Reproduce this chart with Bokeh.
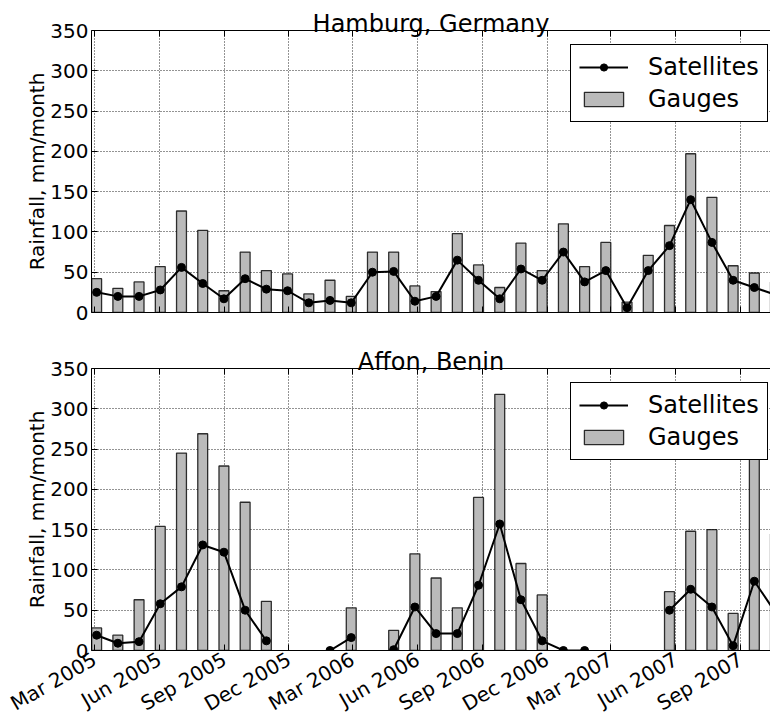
import math
import numpy as np
import pandas as pd
from bokeh.plotting import figure
from bokeh.layouts import column
from bokeh.models import (Range1d, FixedTicker, LinearAxis, Legend,
                          LegendItem, DatetimeTickFormatter)
from bokeh.embed import file_html
from bokeh.resources import INLINE

nan = float("nan")

# ---- data -------------------------------------------------------------
first_obs = "2005-03-04"      # first observation
obs_step = "30D"              # observations every 30 days
n_obs = 33

tick_dates = ["2005-03-01", "2005-06-01", "2005-09-01", "2005-12-01",
              "2006-03-01", "2006-06-01", "2006-09-01", "2006-12-01",
              "2007-03-01", "2007-06-01", "2007-09-01"]

hamburg_gauges = [42, 30, 38, 57, 126, 102, 27, 75, 52, 48, 23, 40, 20, 75, 75,
                  33, 26, 98, 59, 31, 86, 52, 110, 57, 87, 13, 71, 108, 197,
                  143, 58, 49, 38]
hamburg_sat = [25, 20, 20, 28, 56, 36, 17, 42, 29, 27, 12, 15, 12, 50, 51, 14,
               20, 65, 40, 17, 54, 40, 75, 38, 52, 6, 52, 83, 140, 87, 40, 31,
               22]

affon_gauges = [28, 19, 63, 154, 245, 269, 229, 184, 61, nan, nan, nan, 53, nan,
                25, 120, 90, 53, 190, 318, 108, 69, nan, nan, nan, nan, nan,
                73, 148, 150, 46, 260, 144]
affon_sat = [19, 9, 11, 58, 79, 131, 122, 50, 12, nan, nan, 0, 16, nan, 1, 54,
             21, 21, 81, 157, 63, 12, 0, 0, nan, nan, nan, 50, 76, 54, 6, 86,
             47]

titles = ["Hamburg, Germany", "Affon, Benin"]
y_label = "Rainfall, mm/month"
series_labels = ["Satellites", "Gauges"]

# ---- derived ----------------------------------------------------------
dates = pd.date_range(first_obs, periods=n_obs, freq=obs_step)
DAY_MS = 86400000.0
x0 = pd.Timestamp("2005-02-24 18:00").value / 1e6
x1 = x0 + 960.1 * DAY_MS
tick_ms = [pd.Timestamp(d).value / 1e6 for d in tick_dates]

FONT = "DejaVu Sans"
BAR_FILL = "#bababa"


def style_axis(ax, show_labels):
    ax.axis_line_color = "black"
    ax.axis_line_width = 1
    ax.major_tick_in = 6
    ax.major_tick_out = 0
    ax.minor_tick_in = 0
    ax.minor_tick_out = 0
    ax.major_tick_line_color = "black"
    ax.major_label_text_font = FONT
    if show_labels:
        ax.major_label_text_font_size = "20px"
        ax.major_label_text_color = "black"
    else:
        ax.major_label_text_font_size = "1px"
        ax.major_label_standoff = 0
        ax.major_label_text_color = None


def make_panel(title, gauges, sat, show_x_labels, top_border, bottom_border):
    p = figure(frame_width=679, frame_height=282, x_axis_type="datetime",
               x_range=Range1d(x0, x1), y_range=Range1d(0, 350),
               output_backend="svg", toolbar_location=None, title=None,
               min_border_left=91, min_border_right=0,
               min_border_top=top_border, min_border_bottom=bottom_border,
               background_fill_color="white", border_fill_color="white")
    p.outline_line_color = None

    # axes
    xt = FixedTicker(ticks=tick_ms)
    p.xaxis.ticker = xt
    p.xaxis.formatter = DatetimeTickFormatter(
        milliseconds="%b %Y", seconds="%b %Y", minsec="%b %Y", minutes="%b %Y",
        hourmin="%b %Y", hours="%b %Y", days="%b %Y", months="%b %Y",
        years="%b %Y")
    style_axis(p.xaxis[0], show_x_labels)
    if show_x_labels:
        p.xaxis.major_label_standoff = 7
        p.xaxis.major_label_orientation = math.pi / 6

    p.yaxis.ticker = FixedTicker(ticks=[0, 50, 100, 150, 200, 250, 300, 350])
    style_axis(p.yaxis[0], True)
    p.yaxis.major_label_standoff = 3
    p.yaxis.axis_label = y_label
    p.yaxis.axis_label_text_font = FONT
    p.yaxis.axis_label_text_font_size = "20px"
    p.yaxis.axis_label_text_font_style = "normal"
    p.yaxis.axis_label_text_color = "black"
    p.yaxis.axis_label_standoff = -2

    # top spine with ticks; its axis label serves as the panel title
    top = LinearAxis(ticker=FixedTicker(ticks=tick_ms))
    style_axis(top, False)
    top.axis_label = title
    top.axis_label_text_font = FONT
    top.axis_label_text_font_size = "24px"
    top.axis_label_text_font_style = "normal"
    top.axis_label_text_color = "black"
    top.axis_label_standoff = -7
    p.add_layout(top, "above")

    # grid
    for g in (p.xgrid[0], p.ygrid[0]):
        g.grid_line_color = "black"
        g.grid_line_dash = "1 2"
        g.grid_line_width = 1
        g.grid_line_alpha = 0.85
    p.xgrid.ticker = xt

    # data
    gv = np.array(gauges, dtype=float)
    sv = np.array(sat, dtype=float)
    bars = p.vbar(x=dates, top=gv, bottom=0, width=14 * DAY_MS,
                  fill_color=BAR_FILL, line_color="black", line_alpha=0.8,
                  line_width=1.3)
    ln = p.line(x=dates, y=sv, line_color="black", line_width=2)
    sc = p.scatter(x=dates, y=sv, size=8, fill_color="black",
                   line_color="black")

    legend = Legend(items=[LegendItem(label=series_labels[0], renderers=[ln, sc]),
                           LegendItem(label=series_labels[1], renderers=[bars])],
                    location=(479, 190))
    legend.label_text_font = FONT
    legend.label_text_font_size = "24px"
    legend.label_text_color = "black"
    legend.glyph_width = 49
    legend.glyph_height = 18
    legend.label_standoff = 20
    legend.padding = 8
    legend.spacing = 4
    legend.margin = 0
    legend.border_line_color = "black"
    legend.border_line_width = 1
    legend.border_line_alpha = 1
    legend.background_fill_color = "white"
    legend.background_fill_alpha = 1
    p.add_layout(legend)
    return p


p1 = make_panel(titles[0], hamburg_gauges, hamburg_sat, False, 30, 20)
p2 = make_panel(titles[1], affon_gauges, affon_sat, True, 36, 50)

layout = column(p1, p2, spacing=0)
open("out.html", "w").write(file_html(layout, INLINE))
